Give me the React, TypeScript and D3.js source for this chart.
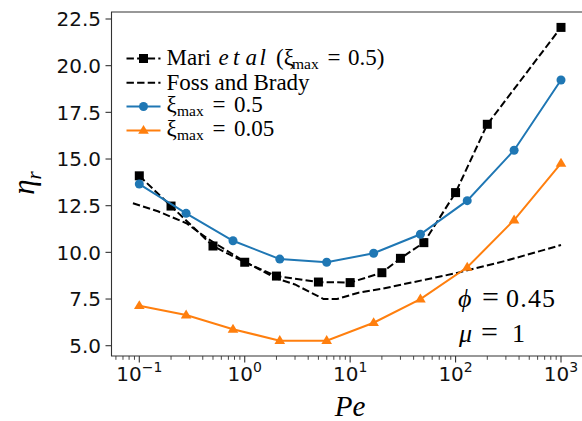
import React from "react";
import * as d3 from "d3";

// Simulation Péclet numbers (log-spaced) and relative viscosity
const PE_SIM = [0.1, 0.278, 0.774, 2.15, 5.99, 16.7, 46.4, 129, 359, 1000];
const ETA_XI_05 = [13.66, 12.09, 10.62, 9.64, 9.47, 9.95, 10.97, 12.77, 15.47, 19.23];
const ETA_XI_005 = [7.14, 6.64, 5.88, 5.27, 5.27, 6.23, 7.5, 9.2, 11.73, 14.77];

// Mari et al. reference data
const PE_MARI = [0.1, 0.2, 0.5, 1, 2, 5, 10, 20, 30, 50, 100, 200, 1000];
const ETA_MARI = [14.1, 12.48, 10.34, 9.47, 8.73, 8.41, 8.38, 8.91, 9.68, 10.52, 13.2, 16.86, 22.05];

// Foss and Brady curve
const PE_FB = [0.087, 0.15, 0.28, 0.44, 1.0, 2.0, 3.0, 5.6, 7.5, 12, 20, 100, 300, 1000];
const ETA_FB = [12.63, 12.2, 11.56, 10.75, 9.5, 8.6, 8.28, 7.5, 7.5, 7.84, 8.05, 8.88, 9.55, 10.39];

const Y_TICKS = [5.0, 7.5, 10.0, 12.5, 15.0, 17.5, 20.0, 22.5];
const X_TICKS = [0.1, 1, 10, 100, 1000];
const X_TICK_EXP = ["\u22121", "0", "1", "2", "3"];

const W = 582;
const H = 421;
const FRAME = { left: 111.5, right: 583, top: 12, bottom: 356 };

const BLUE = "#1f77b4";
const ORANGE = "#ff7f0e";
const SERIF = "'Liberation Serif', 'Times New Roman', serif";
const SANS = "'DejaVu Sans', sans-serif";

export default function App() {
  const x = d3.scaleLog().domain([0.1, 1000]).range([139.3, 561]);
  const y = d3.scaleLinear().domain([5, 22.5]).range([345.7, 19]);

  const line = d3
    .line<[number, number]>()
    .x((d) => x(d[0]))
    .y((d) => y(d[1]));

  const zip = (xs: number[], ys: number[]) => xs.map((v, i) => [v, ys[i]] as [number, number]);
  const mari = zip(PE_MARI, ETA_MARI);
  const fb = zip(PE_FB, ETA_FB);
  const xi05 = zip(PE_SIM, ETA_XI_05);
  const xi005 = zip(PE_SIM, ETA_XI_005);

  // minor log ticks inside the visible x range
  const [xMin, xMax] = [x.invert(FRAME.left), x.invert(FRAME.right)];
  const minor: number[] = [];
  for (let e = -2; e <= 3; e++) {
    for (let m = 2; m <= 9; m++) {
      const v = m * Math.pow(10, e);
      if (v >= xMin && v <= xMax) minor.push(v);
    }
  }

  const dash = "7.4,3.2";
  const sq = 9;
  const tri = (cx: number, cy: number, s = 5.6) =>
    `M${cx},${cy - s} L${cx + s * 0.95},${cy + s * 0.6} L${cx - s * 0.95},${cy + s * 0.6} Z`;

  const legendX0 = 126.5;
  const legendX1 = 160.5;
  const tx = 166.5;
  const rows = [58.5, 82.7, 106.5, 130.5];
  const baselines = [65, 89.7, 112.3, 136];
  const fs = 23;
  const sub = 15.5;
  const subDy = 4;

  return (
    <svg
      width={W}
      height={H}
      style={{ position: "absolute", left: 0, top: 0, background: "#fff" }}
      xmlns="http://www.w3.org/2000/svg"
    >
      <defs>
        <clipPath id="plot-area">
          <rect x={FRAME.left} y={FRAME.top} width={FRAME.right - FRAME.left} height={FRAME.bottom - FRAME.top} />
        </clipPath>
      </defs>
      <rect width={W} height={H} fill="#fff" />

      <g clipPath="url(#plot-area)">
        {/* Mari et al */}
        <path d={line(mari) || ""} fill="none" stroke="#000" strokeWidth={2} strokeDasharray={dash} />
        {mari.map((d, i) => (
          <rect key={i} x={x(d[0]) - sq / 2} y={y(d[1]) - sq / 2} width={sq} height={sq} fill="#000" />
        ))}
        {/* Foss and Brady */}
        <path d={line(fb) || ""} fill="none" stroke="#000" strokeWidth={2} strokeDasharray={dash} />
        {/* xi_max = 0.5 */}
        <path d={line(xi05) || ""} fill="none" stroke={BLUE} strokeWidth={2} />
        {xi05.map((d, i) => (
          <circle key={i} cx={x(d[0])} cy={y(d[1])} r={4.5} fill={BLUE} />
        ))}
        {/* xi_max = 0.05 */}
        <path d={line(xi005) || ""} fill="none" stroke={ORANGE} strokeWidth={2} />
        {xi005.map((d, i) => (
          <path key={i} d={tri(x(d[0]), y(d[1]))} fill={ORANGE} />
        ))}
      </g>

      {/* frame */}
      <path
        d={`M${FRAME.left},${FRAME.top} H${FRAME.right} V${FRAME.bottom} H${FRAME.left} Z`}
        fill="none"
        stroke="#333"
        strokeWidth={1.1}
      />

      {/* y axis */}
      {Y_TICKS.map((t) => (
        <g key={t}>
          <line x1={FRAME.left - 6} x2={FRAME.left} y1={y(t)} y2={y(t)} stroke="#333" strokeWidth={1.1} />
          <text
            x={FRAME.left - 10.5}
            y={y(t)}
            dy="0.36em"
            textAnchor="end"
            fontFamily={SANS}
            fontSize={20}
            fill="#111"
          >
            {t.toFixed(1)}
          </text>
        </g>
      ))}

      {/* x axis */}
      {X_TICKS.map((t, i) => (
        <g key={t}>
          <line x1={x(t)} x2={x(t)} y1={FRAME.bottom} y2={FRAME.bottom + 6.5} stroke="#333" strokeWidth={1.1} />
          <text x={x(t)} y={381} textAnchor="middle" fontFamily={SANS} fontSize={20} fill="#111">
            10
            <tspan dy={-9} fontSize={14}>
              {X_TICK_EXP[i]}
            </tspan>
          </text>
        </g>
      ))}
      {minor.map((t) => (
        <line key={t} x1={x(t)} x2={x(t)} y1={FRAME.bottom} y2={FRAME.bottom + 3.8} stroke="#333" strokeWidth={0.9} />
      ))}

      {/* axis labels */}
      <text
        transform={`translate(34,183) rotate(-90)`}
        textAnchor="middle"
        fontFamily={SERIF}
        fontSize={31}
        fontStyle="italic"
        fill="#000"
      >
        η
        <tspan dy={7} fontSize={21}>
          r
        </tspan>
      </text>
      <text x={350} y={416} textAnchor="middle" fontFamily={SERIF} fontSize={29} fontStyle="italic" fill="#000">
        Pe
      </text>

      {/* legend */}
      <g fontFamily={SERIF} fill="#000">
        <line x1={legendX0} x2={legendX1} y1={rows[0]} y2={rows[0]} stroke="#000" strokeWidth={2} strokeDasharray={dash} />
        <rect x={(legendX0 + legendX1) / 2 - sq / 2} y={rows[0] - sq / 2} width={sq} height={sq} fill="#000" />
        <text y={baselines[0]} fontSize={fs}>
          <tspan x={tx}>Mari</tspan>
          <tspan x={218.5} fontStyle="italic">e</tspan>
          <tspan x={233} fontStyle="italic">t</tspan>
          <tspan x={245.5} fontStyle="italic">a</tspan>
          <tspan x={259.5} fontStyle="italic">l</tspan>
          <tspan x={276}>(ξ</tspan>
          <tspan x={292} dy={subDy} fontSize={sub}>max</tspan>
          <tspan x={327.5} dy={-subDy}>=</tspan>
          <tspan x={348}>0.5)</tspan>
        </text>

        <line x1={legendX0} x2={legendX1} y1={rows[1]} y2={rows[1]} stroke="#000" strokeWidth={2} strokeDasharray={dash} />
        <text x={tx} y={baselines[1]} fontSize={fs}>
          Foss and Brady
        </text>

        <line x1={legendX0} x2={legendX1} y1={rows[2]} y2={rows[2]} stroke={BLUE} strokeWidth={2} />
        <circle cx={(legendX0 + legendX1) / 2} cy={rows[2]} r={4.5} fill={BLUE} />
        <text y={baselines[2]} fontSize={fs}>
          <tspan x={tx}>ξ</tspan>
          <tspan x={177} dy={subDy} fontSize={sub}>max</tspan>
          <tspan x={212.5} dy={-subDy}>=</tspan>
          <tspan x={234}>0.5</tspan>
        </text>

        <line x1={legendX0} x2={legendX1} y1={rows[3]} y2={rows[3]} stroke={ORANGE} strokeWidth={2} />
        <path d={tri((legendX0 + legendX1) / 2, rows[3])} fill={ORANGE} />
        <text y={baselines[3]} fontSize={fs}>
          <tspan x={tx}>ξ</tspan>
          <tspan x={177} dy={subDy} fontSize={sub}>max</tspan>
          <tspan x={212.5} dy={-subDy}>=</tspan>
          <tspan x={234}>0.05</tspan>
        </text>
      </g>

      {/* parameters */}
      <g fontFamily={SERIF} fontSize={26} fill="#000">
        <text y={307}>
          <tspan x={458} fontStyle="italic">ϕ</tspan>
          <tspan x={482} fontSize={30}>=</tspan>
          <tspan x={506} letterSpacing={1.2}>0.45</tspan>
        </text>
        <text y={341.5}>
          <tspan x={459} fontStyle="italic">μ</tspan>
          <tspan x={481} fontSize={30}>=</tspan>
          <tspan x={512}>1</tspan>
        </text>
      </g>
    </svg>
  );
}
